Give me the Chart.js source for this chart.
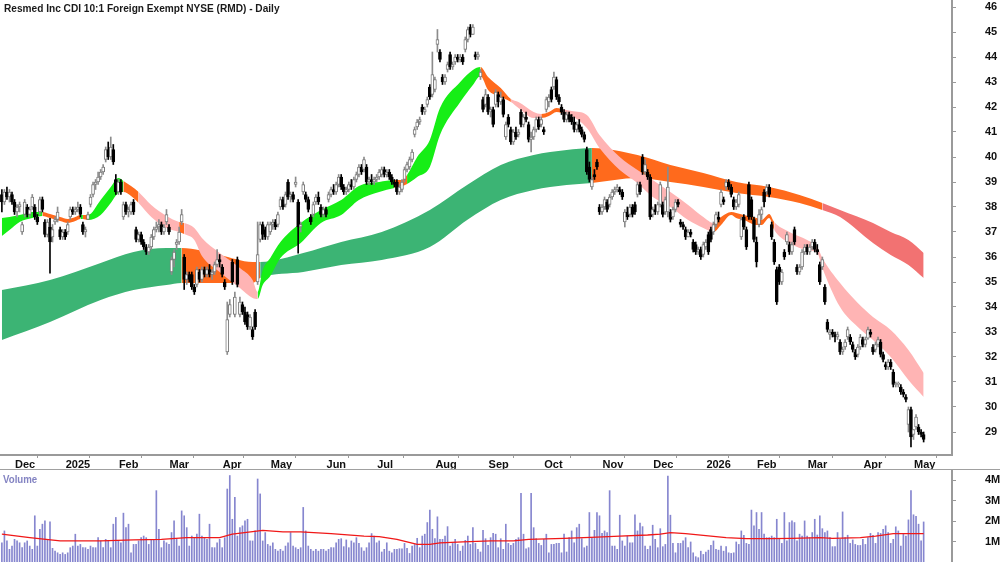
<!DOCTYPE html>
<html>
<head>
<meta charset="utf-8">
<script src="https://cdn.jsdelivr.net/npm/chart.js@4.4.1/dist/chart.umd.min.js"></script>
<style>
body{margin:0;background:#fff;width:1000px;height:562px;overflow:hidden;position:relative;font-family:"Liberation Sans",Arial,sans-serif}
#price{position:absolute;left:0;top:0}
#volbox{position:absolute;left:0;top:469px;width:1000px;height:93px;border-top:1px solid #a0a0a0}
#vol{position:absolute;left:0;top:0}
#title{position:absolute;left:4px;top:2px;font-weight:bold;font-size:11px;color:#1a1a1a;white-space:nowrap;transform:scaleX(0.92);transform-origin:0 0}
#vlabel{position:absolute;left:3px;top:3px;font-weight:bold;font-size:11px;color:#8383c2;transform:scaleX(0.88);transform-origin:0 0}
</style>
</head>
<body>
<canvas id="price" width="1000" height="470"></canvas>
<div id="title">Resmed Inc CDI 10:1 Foreign Exempt NYSE (RMD) - Daily</div>
<div id="volbox"><canvas id="vol" width="1000" height="92"></canvas><div id="vlabel">Volume</div></div>
<script>
// daily bars [open, high, low, close], one array per month
const nov24 = [[38.5,38.7,37.8,38.2],[38.2,38.7,38.1,38.6],[38.6,38.8,38.3,38.4],[38.4,38.7,38.2,38.6]]
const dec24 = [[38.5,38.6,38.1,38.2],[38.2,38.3,37.7,37.8],[37.8,38.1,37.6,38.0],[38.0,38.2,37.8,38.1],[37.0,37.4,36.9,37.3],
  [37.7,38.3,37.6,38.2],[38.0,38.1,37.6,37.7],[37.7,38.0,37.6,37.9],[38.0,38.5,37.9,38.4],[38.0,38.1,37.5,37.6],
  [37.6,37.7,37.3,37.4],[37.8,38.4,37.7,38.3],[38.3,38.4,37.8,37.9],[37.4,37.5,36.8,36.9],[36.9,37.5,36.8,37.4],
  [37.2,37.55,35.35,36.6],[36.8,37.3,36.6,37.1],[37.4,37.6,37.3,37.5],[37.5,38.0,37.4,37.8],[37.1,37.2,36.7,36.8]]
const jan25 = [[36.8,37.1,36.7,37.0],[37.0,37.1,36.7,36.8],[37.0,37.4,36.9,37.3],[37.6,38.0,37.5,37.9],[37.9,38.0,37.7,37.8],
  [37.8,38.0,37.7,37.9],[37.9,38.2,37.8,38.0],[38.0,38.1,37.6,37.7],[37.3,37.4,36.9,37.0],[37.0,37.2,36.8,37.1],
  [37.5,37.8,37.5,37.7],[38.1,38.5,38.0,38.4],[38.5,39.0,38.4,38.9],[38.9,39.1,38.7,39.0],[39.0,39.4,38.9,39.2],
  [39.2,39.5,39.1,39.4],[39.4,39.7,39.3,39.6],[39.9,40.4,39.8,40.3],[40.3,40.6,39.9,40.0],[40.0,40.8,39.9,40.4],
  [40.3,40.5,39.7,39.8]]
const feb25 = [[39.1,39.3,38.5,38.6],[38.6,39.1,38.5,39.0],[39.0,39.1,38.5,38.6],[37.6,38.2,37.5,38.1],[38.1,38.2,37.7,37.8],
  [37.8,38.0,37.6,37.9],[37.8,38.2,37.7,38.1],[38.2,38.3,37.7,37.8],[37.1,37.2,36.6,36.7],[36.7,37.0,36.6,36.9],
  [36.9,37.0,36.5,36.6],[36.6,36.7,36.3,36.4],[36.4,36.5,36.1,36.2],[36.2,36.5,36.1,36.4],[36.4,36.9,36.3,36.8],
  [36.8,37.2,36.7,37.1],[37.1,37.4,37.0,37.2],[37.2,37.5,37.0,37.3],[37.3,37.4,36.9,37.0],[37.0,37.3,36.9,37.2]]
const mar25 = [[37.4,37.9,37.3,37.7],[37.2,37.3,36.9,37.0],[35.4,36.0,35.3,35.9],[35.9,36.3,35.6,36.2],[36.5,36.7,36.3,36.6],
  [36.6,37.2,36.5,37.0],[37.4,37.9,37.3,37.7],[36.0,36.1,34.7,35.1],[35.1,35.4,34.9,35.3],[35.3,35.4,35.0,35.1],
  [35.3,35.4,34.7,34.8],[34.8,34.9,34.5,34.6],[34.9,35.6,34.8,35.5],[35.4,35.5,35.0,35.1],[35.1,35.6,35.0,35.5],
  [35.5,35.6,35.2,35.3],[35.3,35.6,35.2,35.5],[35.5,35.7,35.2,35.3],[35.3,35.5,35.1,35.4],[35.4,35.8,35.3,35.7],
  [35.7,36.3,35.6,35.9]]
const apr25 = [[35.9,36.1,35.6,35.8],[35.6,35.7,35.2,35.3],[35.0,35.1,34.7,34.8],[32.2,34.2,32.1,33.5],[33.7,34.3,33.6,34.1],
  [35.8,35.9,34.9,35.0],[33.7,34.6,33.6,34.4],[35.9,36.0,34.8,34.9],[33.7,34.4,33.6,34.2],[34.1,34.2,33.7,33.8],
  [33.8,34.0,33.3,33.4],[33.7,33.8,33.1,33.2],[33.2,33.7,33.1,33.6],[33.1,33.2,32.7,32.8],[33.8,33.9,33.1,33.2],
  [35.0,37.4,34.9,36.1],[36.7,37.4,36.6,37.3],[37.3,37.4,36.7,36.9],[37.1,37.2,36.7,36.8]]
const may25 = [[36.8,37.4,36.7,37.3],[37.0,37.4,36.9,37.3],[37.3,37.5,37.1,37.4],[37.4,37.5,37.1,37.2],[37.3,37.8,37.2,37.7],
  [38.0,38.4,37.9,38.3],[38.3,38.4,37.9,38.0],[38.1,38.6,38.0,38.5],[39.0,39.1,38.3,38.4],[38.4,38.6,38.2,38.5],
  [38.5,38.6,38.2,38.3],[38.9,39.2,38.8,39.0],[38.2,38.3,36.15,37.2],[37.2,37.4,37.0,37.3],[38.6,39.0,38.5,38.9],
  [38.5,38.6,38.2,38.3],[38.3,38.4,37.8,37.9],[37.6,37.7,37.3,37.4],[37.7,38.2,37.6,38.1],[38.2,38.5,38.1,38.4],
  [38.4,38.6,38.1,38.2],[38.0,38.1,37.6,37.7]]
const jun25 = [[37.7,38.0,37.6,37.9],[37.9,38.0,37.6,37.7],[38.3,38.6,38.2,38.5],[38.5,38.8,38.4,38.7],[38.7,38.9,38.5,38.6],
  [38.6,39.0,38.5,38.9],[38.9,39.3,38.8,39.2],[39.2,39.3,38.7,38.8],[38.8,38.9,38.5,38.6],[38.6,38.8,38.5,38.7],
  [38.7,39.0,38.6,38.9],[38.9,39.1,38.7,38.8],[38.8,39.2,38.7,39.1],[39.1,39.4,39.0,39.3],[39.3,39.7,39.2,39.6],
  [39.6,39.7,39.3,39.4],[39.5,40.0,39.4,39.9],[39.6,39.7,38.9,39.0],[39.0,39.2,38.9,39.1],[39.1,39.3,38.9,39.0]]
const jul25 = [[39.0,39.2,38.9,39.1],[39.1,39.3,39.0,39.2],[39.2,39.5,39.1,39.4],[39.3,39.6,39.2,39.5],[39.5,39.6,39.2,39.3],
  [39.3,39.5,39.2,39.4],[39.4,39.5,39.1,39.2],[39.2,39.3,38.9,39.0],[39.0,39.1,38.8,38.9],[39.0,39.1,38.5,38.6],
  [38.6,38.9,38.5,38.8],[38.7,39.1,38.6,39.0],[39.1,39.6,39.0,39.5],[39.5,39.8,39.4,39.7],[39.6,40.0,39.5,39.9],
  [39.9,40.3,39.8,40.2],[40.9,41.2,40.8,41.1],[41.2,41.5,41.1,41.4],[41.4,41.6,41.3,41.5],[42.0,42.1,41.7,41.8],
  [41.8,42.0,41.7,41.9],[42.1,42.4,42.0,42.3],[42.8,42.9,42.3,42.4]]
const aug25 = [[42.5,44.2,42.4,43.3],[42.7,43.2,42.6,43.1],[44.5,45.1,44.2,44.7],[44.2,44.3,43.8,43.9],[43.2,43.3,42.9,43.0],
  [43.0,43.3,42.9,43.2],[43.5,43.8,43.4,43.7],[44.1,44.2,43.5,43.6],[43.6,43.8,43.5,43.7],[43.8,44.1,43.7,44.0],
  [44.0,44.1,43.8,43.9],[43.9,44.1,43.8,44.0],[44.0,44.1,43.7,43.8],[44.3,44.8,44.2,44.7],[44.7,45.2,44.6,45.1],
  [45.2,45.3,44.8,44.9],[44.9,45.3,44.9,45.2],[44.1,44.2,43.9,44.0],[44.0,44.2,43.9,44.1],[43.2,43.5,43.1,43.4],
  [42.3,42.4,41.8,41.9]]
const sep25 = [[42.1,42.7,42.0,42.5],[42.4,42.5,41.7,41.8],[41.8,42.0,41.6,41.9],[41.9,42.0,41.2,41.3],[42.1,42.7,42.0,42.6],
  [42.5,42.6,42.0,42.2],[42.2,42.6,42.1,42.4],[42.3,42.4,41.6,41.7],[40.8,41.4,40.7,41.3],[41.6,41.7,41.2,41.3],
  [41.1,41.2,40.5,40.6],[40.6,41.1,40.5,41.0],[41.0,41.2,40.7,40.8],[40.9,41.1,40.8,41.0],[41.8,41.9,41.2,41.3],
  [41.3,41.7,41.2,41.6],[41.6,41.8,41.4,41.5],[41.3,41.4,40.6,40.7],[40.7,41.0,40.2,40.8],[40.8,41.2,40.7,41.1],
  [41.1,41.6,41.0,41.5],[41.5,41.6,41.1,41.2]]
const oct25 = [[41.3,41.6,41.2,41.5],[41.1,41.2,40.9,41.0],[41.9,42.4,41.8,42.3],[42.2,42.5,42.0,42.4],[42.7,42.8,42.2,42.3],
  [42.8,43.4,42.7,43.2],[43.1,43.2,42.3,42.4],[42.4,42.5,42.1,42.2],[42.0,42.1,41.7,41.8],[41.8,41.9,41.4,41.5],
  [41.5,41.8,41.4,41.7],[41.7,41.8,41.4,41.5],[41.6,41.7,41.3,41.4],[41.4,41.6,41.0,41.1],[41.1,41.4,41.0,41.3],
  [41.3,41.5,41.0,41.1],[41.1,41.2,40.8,40.9],[40.9,41.0,40.6,40.7],[40.3,40.4,39.3,39.4],[39.6,39.8,39.0,39.1],
  [38.8,39.2,38.7,39.1],[39.3,39.5,39.1,39.2],[39.8,39.9,39.5,39.6]]
const nov25 = [[38.0,38.1,37.7,37.8],[37.8,38.1,37.7,38.0],[38.0,38.4,37.9,38.3],[38.2,38.3,37.8,37.9],[38.1,38.5,38.0,38.4],
  [38.4,38.7,38.3,38.6],[38.6,38.8,38.5,38.7],[38.7,38.9,38.6,38.8],[38.7,38.8,38.5,38.6],[38.6,38.7,38.3,38.4],
  [37.4,37.9,37.2,37.8],[37.8,38.0,37.5,37.6],[37.7,38.1,37.6,38.0],[38.0,38.1,37.6,37.7],[38.1,38.2,37.7,37.8],
  [38.5,39.0,38.4,38.9],[38.9,39.0,38.5,38.6],[40.0,40.1,39.3,39.4],[39.4,39.9,39.3,39.7],[39.4,39.5,39.1,39.2]]
const dec25 = [[39.2,39.3,37.5,37.6],[37.7,38.0,37.6,37.9],[37.9,38.1,37.7,37.8],[37.8,38.2,37.7,38.1],[38.1,39.0,38.0,38.9],
  [38.1,38.2,37.6,37.7],[37.8,38.4,37.7,38.3],[37.8,39.6,37.6,38.8],[37.8,37.9,37.4,37.5],[37.6,38.0,37.5,37.9],
  [37.9,38.3,37.8,38.2],[38.2,38.3,38.0,38.1],[37.4,37.5,37.2,37.3],[37.3,37.4,37.1,37.2],[37.1,37.2,36.7,36.8],
  [36.8,37.1,36.8,37.0],[37.0,37.1,36.8,36.9],[36.6,36.7,36.2,36.3],[36.5,36.6,36.1,36.2],[36.2,36.4,36.1,36.3],
  [36.3,36.4,35.9,36.0]]
const jan26 = [[36.1,36.6,36.0,36.5],[36.4,36.7,36.3,36.6],[36.9,37.0,36.1,36.2],[37.1,37.2,36.6,36.7],[37.0,37.4,36.9,37.3],
  [37.3,37.8,37.2,37.7],[37.6,37.8,37.4,37.5],[38.1,38.7,38.0,38.6],[38.3,38.4,38.1,38.2],[38.8,39.1,38.7,39.0],
  [39.0,39.1,38.7,38.8],[38.8,38.9,38.4,38.5],[38.3,38.4,37.9,38.0],[38.0,38.3,37.9,38.2],[38.1,38.6,38.0,38.5],
  [36.8,37.6,36.7,37.5],[37.6,37.7,37.1,37.2],[37.1,37.2,36.3,36.4],[38.9,39.0,37.5,37.6],[38.3,38.4,37.5,37.6]]
const feb26 = [[37.5,37.6,36.6,36.7],[36.6,36.8,35.6,35.8],[37.3,37.9,37.2,37.7],[37.7,38.0,37.5,37.9],[38.6,38.7,38.0,38.2],
  [38.6,38.9,38.5,38.8],[38.8,38.9,38.4,38.5],[37.3,37.4,36.7,36.8],[36.6,36.7,35.7,35.8],[35.5,35.6,34.1,34.2],
  [35.6,35.7,34.9,35.0],[35.0,35.5,34.9,35.4],[36.2,36.3,35.9,36.0],[36.6,37.0,36.5,36.9],[36.5,36.6,36.1,36.2],
  [36.2,36.6,36.1,36.5],[37.1,37.2,36.5,36.6],[35.6,35.7,35.3,35.4],[35.4,35.7,35.3,35.6],[35.6,36.3,35.5,36.2]]
const mar26 = [[36.2,36.5,36.1,36.4],[36.4,36.5,36.1,36.2],[36.2,36.5,36.1,36.4],[36.4,36.7,36.3,36.6],[36.6,36.7,36.2,36.3],
  [36.3,36.5,36.1,36.2],[35.7,35.8,34.9,35.0],[35.6,36.0,35.5,35.9],[34.8,34.9,34.1,34.2],[33.4,33.5,33.0,33.1],
  [32.9,33.1,32.7,33.0],[33.0,33.1,32.8,32.9],[32.9,33.0,32.6,32.8],[32.8,33.0,32.7,32.9],[32.6,32.7,32.1,32.2],
  [32.2,32.4,32.1,32.3],[32.4,32.7,32.3,32.6],[32.8,33.2,32.7,33.1],[32.8,32.9,32.5,32.6],[32.5,32.6,32.2,32.3],
  [32.2,32.3,31.9,32.0],[32.1,32.5,32.0,32.4]]
const apr26 = [[32.4,32.9,32.3,32.8],[32.7,32.8,32.4,32.5],[32.5,32.8,32.4,32.7],[32.75,33.2,32.7,33.1],[33.0,33.1,32.8,32.9],
  [32.4,32.5,32.1,32.2],[32.3,32.6,32.2,32.5],[32.5,32.8,32.4,32.7],[32.6,32.7,32.0,32.1],[32.1,32.2,31.8,31.9],
  [31.7,31.8,31.5,31.6],[31.6,31.9,31.5,31.8],[31.8,31.9,31.5,31.6],[31.4,31.5,30.8,30.9],[30.9,31.0,30.8,30.9],
  [30.9,31.0,30.8,30.95],[30.8,30.9,30.5,30.6],[30.6,30.7,30.4,30.5],[30.4,30.5,30.2,30.3],[29.3,30.0,29.0,29.9]]
const may26 = [[29.9,30.0,28.4,28.8],[28.9,29.1,28.7,29.1],[29.2,29.7,29.1,29.6],[29.2,29.3,28.9,29.0],[29.0,29.1,28.8,28.9],[28.9,29.0,28.6,28.7]]

// daily volume, millions
const vNov24 = [0.94,1.52,1.03,0.62]
const vDec24 = [0.78,1.11,1.03,0.94,0.70,0.94,1.03,0.78,0.62,2.26,0.78,1.60,1.85,2.01,1.11,1.96,0.67,0.53,0.45,0.37]
const vJan25 = [0.45,0.37,0.45,0.70,0.78,1.36,0.78,0.86,0.70,0.70,0.62,0.78,0.70,0.70,1.19,1.03,0.70,1.11,1.03,0.70,1.85]
const vFeb25 = [2.18,1.03,0.94,2.39,1.68,1.85,0.45,0.86,0.86,1.03,1.19,1.27,1.19,0.86,1.11,1.11,3.49,1.60,0.70,1.03]
const vMar25 = [0.94,0.86,1.44,2.01,1.11,0.78,2.50,2.26,1.68,0.78,1.27,1.19,1.36,2.34,1.27,1.19,1.11,1.85,0.70,0.70,0.94]
const vApr25 = [1.11,0.70,1.19,3.57,4.23,2.09,3.16,1.27,1.68,1.77,2.01,2.09,1.03,1.03,1.52,4.06,3.33,1.03,1.44]
const vMay25 = [0.86,0.78,0.94,0.62,0.53,0.62,0.53,0.78,0.94,1.44,0.78,0.70,0.62,0.70,2.67,1.52,0.78,0.62,0.53,0.62,0.53,0.62]
const vJun25 = [0.62,0.53,0.62,0.70,0.70,0.94,1.11,1.14,0.75,1.08,0.70,1.03,0.94,1.19,0.91,0.70,0.53,0.70,0.94,1.39]
const vJul25 = [1.27,0.94,1.03,0.49,0.62,0.94,0.53,0.45,0.62,0.62,0.65,0.65,0.91,0.67,0.42,0.78,0.86,1.16,0.70,1.27,1.36,1.93,2.54]
const vAug25 = [1.60,1.14,2.21,1.11,1.11,1.27,1.73,0.78,0.91,1.11,0.86,0.53,0.78,1.06,1.27,0.86,1.68,0.91,0.62,0.49,1.55]
const vSep25 = [1.14,0.81,1.19,1.40,1.36,0.70,1.14,0.62,1.85,0.91,0.81,0.91,1.11,1.19,3.36,1.36,0.65,0.70,3.36,1.68,1.14,0.91]
const vOct25 = [0.81,1.11,1.36,0.45,0.86,0.86,0.91,0.91,0.45,1.36,0.49,1.19,1.52,0.94,1.68,1.85,1.14,0.70,0.78,2.42,1.19,1.55,2.42]
const vNov25 = [2.26,1.40,1.52,1.44,3.49,0.78,0.78,0.62,2.29,1.03,0.78,1.27,0.94,0.94,2.31,1.52,1.90,1.73,0.78,0.62]
const vDec25 = [0.78,1.80,1.11,0.70,1.63,0.75,0.86,4.20,2.29,0.91,0.45,0.91,0.91,1.03,1.19,0.70,0.98,0.45,0.26,0.21,0.53]
const vJan26 = [0.37,0.49,0.58,0.81,1.03,0.62,0.58,0.78,0.53,0.75,0.45,0.42,0.45,0.98,0.86,1.52,1.31,0.91,0.86,2.54]
const vFeb26 = [1.77,2.42,1.60,2.42,1.36,1.19,1.19,1.27,1.19,2.09,1.11,0.91,2.42,1.03,1.93,2.01,1.93,1.03,1.36,1.27]
const vMar26 = [2.01,1.27,1.19,1.44,2.09,1.32,2.26,1.63,1.44,1.52,1.19,0.75,0.75,1.44,1.11,2.45,1.19,1.31,0.91,1.08,0.86,0.81]
const vApr26 = [0.81,1.11,0.86,1.19,1.40,1.31,0.91,1.44,1.40,1.60,1.77,1.44,0.91,1.11,1.72,1.52,0.78,1.36,1.27,2.06]
const vMay26 = [3.49,2.31,2.23,1.85,1.03,1.96]

const monthLabels = ['', 'Dec', '2025', 'Feb', 'Mar', 'Apr', 'May', 'Jun', 'Jul', 'Aug', 'Sep', 'Oct', 'Nov', 'Dec', '2026', 'Feb', 'Mar', 'Apr', 'May']
const monthBars = [nov24, dec24, jan25, feb25, mar25, apr25, may25, jun25, jul25, aug25, sep25, oct25, nov25, dec25, jan26, feb26, mar26, apr26, may26]
const monthVols = [vNov24, vDec24, vJan25, vFeb25, vMar25, vApr25, vMay25, vJun25, vJul25, vAug25, vSep25, vOct25, vNov25, vDec25, vJan26, vFeb26, vMar26, vApr26, vMay26]

// short-term ribbon (bar index, upper, lower, tone g/o/p)
const shortAt = [0,3,7,12,16,19,23,26,29,31,32,34,39,43,46,48,51,54,59,65,70,72,76,79,86,94,99,101,103,106,110,118,126,134,141,149,155,158,160,164,169,173,181,186,189,192,197,201,204,210,213,216,219,221,225,231,236,244,251,257,264,271,277,281,284,288,290,293,298,300,303,305,311,318,322,324,331,338,344,351,358,364]
const shortHi = [37.56,37.6,37.68,37.8,37.8,37.72,37.6,37.52,37.6,37.68,37.68,37.68,38.28,38.8,39.16,39.04,38.84,38.6,38.08,37.64,37.4,37.36,37.16,36.76,36.16,35.56,35.08,34.6,35.48,35.96,36.6,37.36,37.88,38.28,38.84,39.0,39.08,39.08,39.28,40.0,40.68,41.96,43.0,43.48,43.6,43.2,42.76,42.32,42.2,41.8,41.72,41.8,41.96,41.92,41.84,41.68,40.88,40.0,39.48,39.08,38.6,38.08,37.6,37.36,37.6,37.8,37.76,37.68,37.56,37.48,37.72,37.4,37.0,36.68,36.4,35.96,34.96,34.16,33.6,33.08,32.28,31.36]
const shortLo = [36.84,37.08,37.4,37.56,37.64,37.56,37.44,37.36,37.44,37.52,37.52,37.48,37.68,38.16,38.56,38.6,38.44,38.16,37.6,37.16,37.0,36.92,36.68,36.04,35.4,34.76,34.36,34.32,34.88,35.24,35.96,36.56,37.36,37.68,38.28,38.6,38.76,38.84,38.92,39.2,39.6,40.88,42.2,42.88,43.24,42.68,42.4,42.2,41.96,41.56,41.56,41.64,41.8,41.76,41.64,41.16,40.36,39.48,38.96,38.4,38.0,37.48,37.16,37.0,37.28,37.68,37.56,37.48,37.28,37.28,37.56,37.08,36.56,36.28,36.16,35.56,34.0,33.2,32.68,32.0,31.08,30.4]
const shortTone = 'ggggooooog' + 'oggggooppp' + 'oppppppggg' + 'ggggggoogg' + 'ggggoooppp' + 'oooppppppp' + 'pppooooooo' + 'oppppppppp' + 'pp'

// long-term ribbon (bar index, upper, lower, tone G/o/R)
const longAt = [0,19,39,52,65,71,86,99,102,119,134,150,169,184,197,210,223,233,251,264,277,290,303,315,324,331,344,351,358,364]
const longHi = [34.68,35.08,35.76,36.2,36.36,36.36,36.08,35.8,35.8,36.16,36.6,37.0,37.88,38.9,39.68,40.08,40.28,40.36,40.08,39.68,39.36,39.0,38.8,38.48,38.16,37.88,37.36,37.0,36.68,36.16]
const longLo = [32.68,33.4,34.28,34.68,34.88,34.96,34.96,34.96,35.16,35.4,35.68,35.88,36.4,37.5,38.28,38.68,38.88,38.96,39.16,39.0,38.8,38.56,38.4,38.16,37.88,37.6,36.56,36.08,35.68,35.16]
const longTone = 'GGGGGoooGGGGGGGGGoooooooRRRRRR'

// volume moving average
const vmaAt = [0,11,23,39,52,63,73,86,91,103,111,118,130,143,149,156,164,169,173,182,193,202,208,222,235,244,255,260,264,270,280,286,294,303,312,323,328,339,345,352,364]
const vmaVal = [1.36,1.19,1.03,1.03,1.08,1.11,1.19,1.19,1.36,1.55,1.47,1.47,1.39,1.27,1.24,1.11,0.86,0.86,0.94,0.98,1.03,1.03,1.11,1.16,1.22,1.27,1.32,1.36,1.44,1.39,1.27,1.19,1.14,1.14,1.16,1.19,1.16,1.19,1.27,1.39,1.39]

const priceTicks = [29,30,31,32,33,34,35,36,37,38,39,40,41,42,43,44,45,46]
const volTicks = [1,2,3,4]

const tone = {g:'#16ee16', o:'#ff6a1c', p:'#ffb4b4', G:'#3cb474', R:'#f27272'}
Chart.defaults.font.family = '"Liberation Sans",Arial,sans-serif'
Chart.defaults.font.size = 11
Chart.defaults.font.weight = 'bold'
Chart.defaults.color = '#111'

var candles = []
var volume = []
var monthTicks = []
var monthText = []
monthBars.forEach(function(m, k){
    if(monthLabels[k]){
        monthTicks.push(candles.length)
        monthText.push(monthLabels[k])
    }
    m.forEach(function(b, j){
        volume.push({x: candles.length, y: monthVols[k][j]})
        candles.push(b)
    })
})

const xMin = -0.74
const xMax = 375.2

// keep the tick padding from eating into the plot height
function noPad(s){
    s.paddingTop = 0
    s.paddingBottom = 0
    s.paddingLeft = 0
    s.paddingRight = 0
}

function ribbon(at, hi, lo, tones, order){
    return [{
        type: 'line',
        data: at.map((v, k) => ({x: v, y: hi[k]})),
        borderColor: 'transparent',
        borderWidth: 0,
        pointRadius: 0,
        cubicInterpolationMode: 'monotone',
        fill: '+1',
        backgroundColor: tone[tones[0]],
        segment: {backgroundColor: ctx => tone[tones[ctx.p0DataIndex]]},
        order: order
    }, {
        type: 'line',
        data: at.map((v, k) => ({x: v, y: lo[k]})),
        borderColor: 'transparent',
        borderWidth: 0,
        pointRadius: 0,
        cubicInterpolationMode: 'monotone',
        fill: false,
        order: order
    }]
}

const up = candles.map(c => c[3] >= c[0])

new Chart(document.getElementById('price'), {
    type: 'bar',
    data: {
        datasets: [
            ...ribbon(longAt, longHi, longLo, longTone, 10),
            ...ribbon(shortAt, shortHi, shortLo, shortTone, 8),
            {
                type: 'bar',
                data: candles.map((c, i) => ({x: i, y: [c[2], c[1]]})),
                backgroundColor: up.map(u => u ? '#8c8c8c' : '#000'),
                barThickness: 1,
                grouped: false,
                order: 2
            },
            {
                type: 'bar',
                data: candles.map((c, i) => ({x: i, y: [c[0], c[3]]})),
                backgroundColor: up.map(u => u ? '#fff' : '#000'),
                borderColor: up.map(u => u ? '#7a7a7a' : '#000'),
                borderWidth: 1,
                borderSkipped: false,
                barThickness: 3,
                minBarLength: 1,
                grouped: false,
                order: 1
            }
        ]
    },
    options: {
        responsive: false,
        animation: false,
        layout: {padding: 0},
        plugins: {legend: {display: false}, tooltip: {enabled: false}, filler: {drawTime: 'beforeDatasetDraw'}},
        scales: {
            x: {
                type: 'linear', min: xMin, max: xMax, offset: false,
                grid: {drawOnChartArea: false, tickLength: 3, color: '#999'},
                border: {color: '#9a9a9a', width: 2},
                afterBuildTicks: s => { s.ticks = monthTicks.map(v => ({value: v})) },
                afterFit: s => { s.height = 15; noPad(s) },
                ticks: {align: 'start', padding: 0, autoSkip: false, maxRotation: 0, minRotation: 0,
                    callback: (v, k) => ' ' + monthText[k]}
            },
            y: {
                position: 'right', min: 28.08, max: 46.28,
                grid: {drawOnChartArea: false, tickLength: 4, color: '#999'},
                border: {color: '#9a9a9a', width: 2},
                afterBuildTicks: s => { s.ticks = priceTicks.map(v => ({value: v})) },
                afterFit: s => { s.width = 48; noPad(s) },
                ticks: {padding: 29, autoSkip: false}
            }
        }
    }
})

new Chart(document.getElementById('vol'), {
    type: 'bar',
    data: {
        datasets: [
            {
                type: 'line',
                data: vmaAt.map((v, k) => ({x: v, y: vmaVal[k]})),
                borderColor: '#f01818',
                borderWidth: 1.3,
                pointRadius: 0,
                tension: 0,
                order: 0
            },
            {
                type: 'bar',
                data: volume,
                backgroundColor: '#8686cf',
                barThickness: 1,
                grouped: false,
                order: 1
            }
        ]
    },
    options: {
        responsive: false,
        animation: false,
        layout: {padding: 0},
        plugins: {legend: {display: false}, tooltip: {enabled: false}},
        scales: {
            x: {type: 'linear', min: xMin, max: xMax, offset: false, display: false},
            y: {
                position: 'right', min: 0, max: 4.5,
                grid: {drawOnChartArea: false, tickLength: 4, color: '#999'},
                border: {color: '#9a9a9a', width: 2},
                afterBuildTicks: s => { s.ticks = volTicks.map(v => ({value: v})) },
                afterFit: s => { s.width = 48; noPad(s) },
                ticks: {padding: 29, callback: v => v + 'M'}
            }
        }
    }
})
</script>
</body>
</html>
